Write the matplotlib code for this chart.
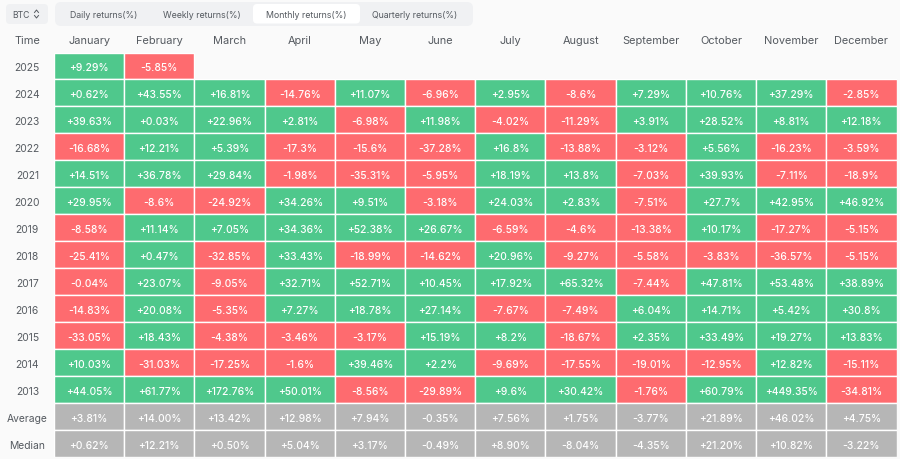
import numpy as np
import matplotlib
matplotlib.use("Agg")
import matplotlib.pyplot as plt
from matplotlib.patches import FancyBboxPatch

plt.rcParams["font.family"] = ["Inter", "DejaVu Sans"]

months = ["January", "February", "March", "April", "May", "June", "July",
          "August", "September", "October", "November", "December"]
tabs = ["Daily returns(%)", "Weekly returns(%)", "Monthly returns(%)", "Quarterly returns(%)"]
years = ["2025", "2024", "2023", "2022", "2021", "2020", "2019",
         "2018", "2017", "2016", "2015", "2014", "2013"]
stat_names = ["Average", "Median"]

r2025 = [9.29, -5.85]
r2024 = [0.62, 43.55, 16.81, -14.76, 11.07, -6.96, 2.95, -8.6, 7.29, 10.76, 37.29, -2.85]
r2023 = [39.63, 0.03, 22.96, 2.81, -6.98, 11.98, -4.02, -11.29, 3.91, 28.52, 8.81, 12.18]
r2022 = [-16.68, 12.21, 5.39, -17.3, -15.6, -37.28, 16.8, -13.88, -3.12, 5.56, -16.23, -3.59]
r2021 = [14.51, 36.78, 29.84, -1.98, -35.31, -5.95, 18.19, 13.8, -7.03, 39.93, -7.11, -18.9]
r2020 = [29.95, -8.6, -24.92, 34.26, 9.51, -3.18, 24.03, 2.83, -7.51, 27.7, 42.95, 46.92]
r2019 = [-8.58, 11.14, 7.05, 34.36, 52.38, 26.67, -6.59, -4.6, -13.38, 10.17, -17.27, -5.15]
r2018 = [-25.41, 0.47, -32.85, 33.43, -18.99, -14.62, 20.96, -9.27, -5.58, -3.83, -36.57, -5.15]
r2017 = [-0.04, 23.07, -9.05, 32.71, 52.71, 10.45, 17.92, 65.32, -7.44, 47.81, 53.48, 38.89]
r2016 = [-14.83, 20.08, -5.35, 7.27, 18.78, 27.14, -7.67, -7.49, 6.04, 14.71, 5.42, 30.8]
r2015 = [-33.05, 18.43, -4.38, -3.46, -3.17, 15.19, 8.2, -18.67, 2.35, 33.49, 19.27, 13.83]
r2014 = [10.03, -31.03, -17.25, -1.6, 39.46, 2.2, -9.69, -17.55, -19.01, -12.95, 12.82, -15.11]
r2013 = [44.05, 61.77, 172.76, 50.01, -8.56, -29.89, 9.6, 30.42, -1.76, 60.79, 449.35, -34.81]
average = [3.81, 14.00, 13.42, 12.98, 7.94, -0.35, 7.56, 1.75, -3.77, 21.89, 46.02, 4.75]
median = [0.62, 12.21, 0.50, 5.04, 3.17, -0.49, 8.90, -8.04, -4.35, 21.20, 10.82, -3.22]

year_rows = [r2025, r2024, r2023, r2022, r2021, r2020, r2019,
             r2018, r2017, r2016, r2015, r2014, r2013]
stat_rows = [average, median]

GREEN = "#4fc88c"
RED = "#fe6b6f"
GRAY = "#b6b6b6"
BG = "#fafafa"
TEXT = "#555a60"
W, H = 900, 460

n_rows = len(year_rows) + len(stat_rows)

fig = plt.figure(figsize=(W / 100, H / 100), dpi=100, facecolor=BG)

# overlay in pixel coords for the controls on top
top = fig.add_axes([0, 0, 1, 1])
top.set_xlim(0, W)
top.set_ylim(H, 0)
top.axis("off")


def rounded(x0, y0, x1, y1, color, r=4):
    top.add_patch(FancyBboxPatch((x0 + r, y0 + r), x1 - x0 - 2 * r, y1 - y0 - 2 * r,
                                 boxstyle=f"round,pad={r}", fc=color, ec="none"))


rounded(6, 5, 48, 25, "#f0f1f3")
top.text(12, 15, "BTC", fontsize=6.2, color=TEXT, va="center")
top.plot([34.5, 36.5, 38.5], [13.5, 11, 13.5], color=TEXT, lw=0.7)
top.plot([34.5, 36.5, 38.5], [16.5, 19, 16.5], color=TEXT, lw=0.7)

rounded(55, 3, 473, 27, "#f0f1f3", r=6)
rounded(253, 5, 360, 24.5, "white", r=4)
for tab, cx in zip(tabs, [103.5, 201.5, 306, 415]):
    top.text(cx, 15, tab, fontsize=6.35, color=TEXT, ha="center", va="center")

# the table itself, one bar per cell so empty months stay blank
ax = fig.add_axes([54 / W, 1 - 458 / H, (896.5 - 54) / W, (458 - 53.5) / H])
ax.set_facecolor("none")
for i, row in enumerate(year_rows):
    ax.barh([i + 0.5] * len(row), [1] * len(row), height=1, left=np.arange(len(row)),
            color=[GREEN if v >= 0 else RED for v in row], edgecolor="white", linewidth=1.0)
    for j, v in enumerate(row):
        ax.text(j + 0.5, i + 0.5, f"{v:+g}%", color="white", fontsize=7.4,
                fontweight="medium", ha="center", va="center_baseline")
for i, row in enumerate(stat_rows):
    y = i + len(year_rows) + 0.5
    ax.barh([y] * len(row), [1] * len(row), height=1, left=np.arange(len(row)),
            color=GRAY, edgecolor="white", linewidth=1.0)
    for j, v in enumerate(row):
        ax.text(j + 0.5, y, f"{v:+.2f}%", color="white", fontsize=7.4,
                fontweight="medium", ha="center", va="center_baseline")
ax.set_xlim(0, 12)
ax.set_ylim(n_rows, 0)
ax.axis("off")

for i, name in enumerate(years + stat_names):
    ax.text(-0.38, i + 0.5, name, color=TEXT, fontsize=7.4, ha="center",
            va="center_baseline", clip_on=False)
for j, name in enumerate(months):
    ax.text(j + 0.5, -0.5, name, color=TEXT, fontsize=7.9, ha="center",
            va="center_baseline", clip_on=False)
ax.text(-0.38, -0.5, "Time", color=TEXT, fontsize=7.9, ha="center",
        va="center_baseline", clip_on=False)

fig.savefig("out.png", dpi=100, facecolor=BG)
